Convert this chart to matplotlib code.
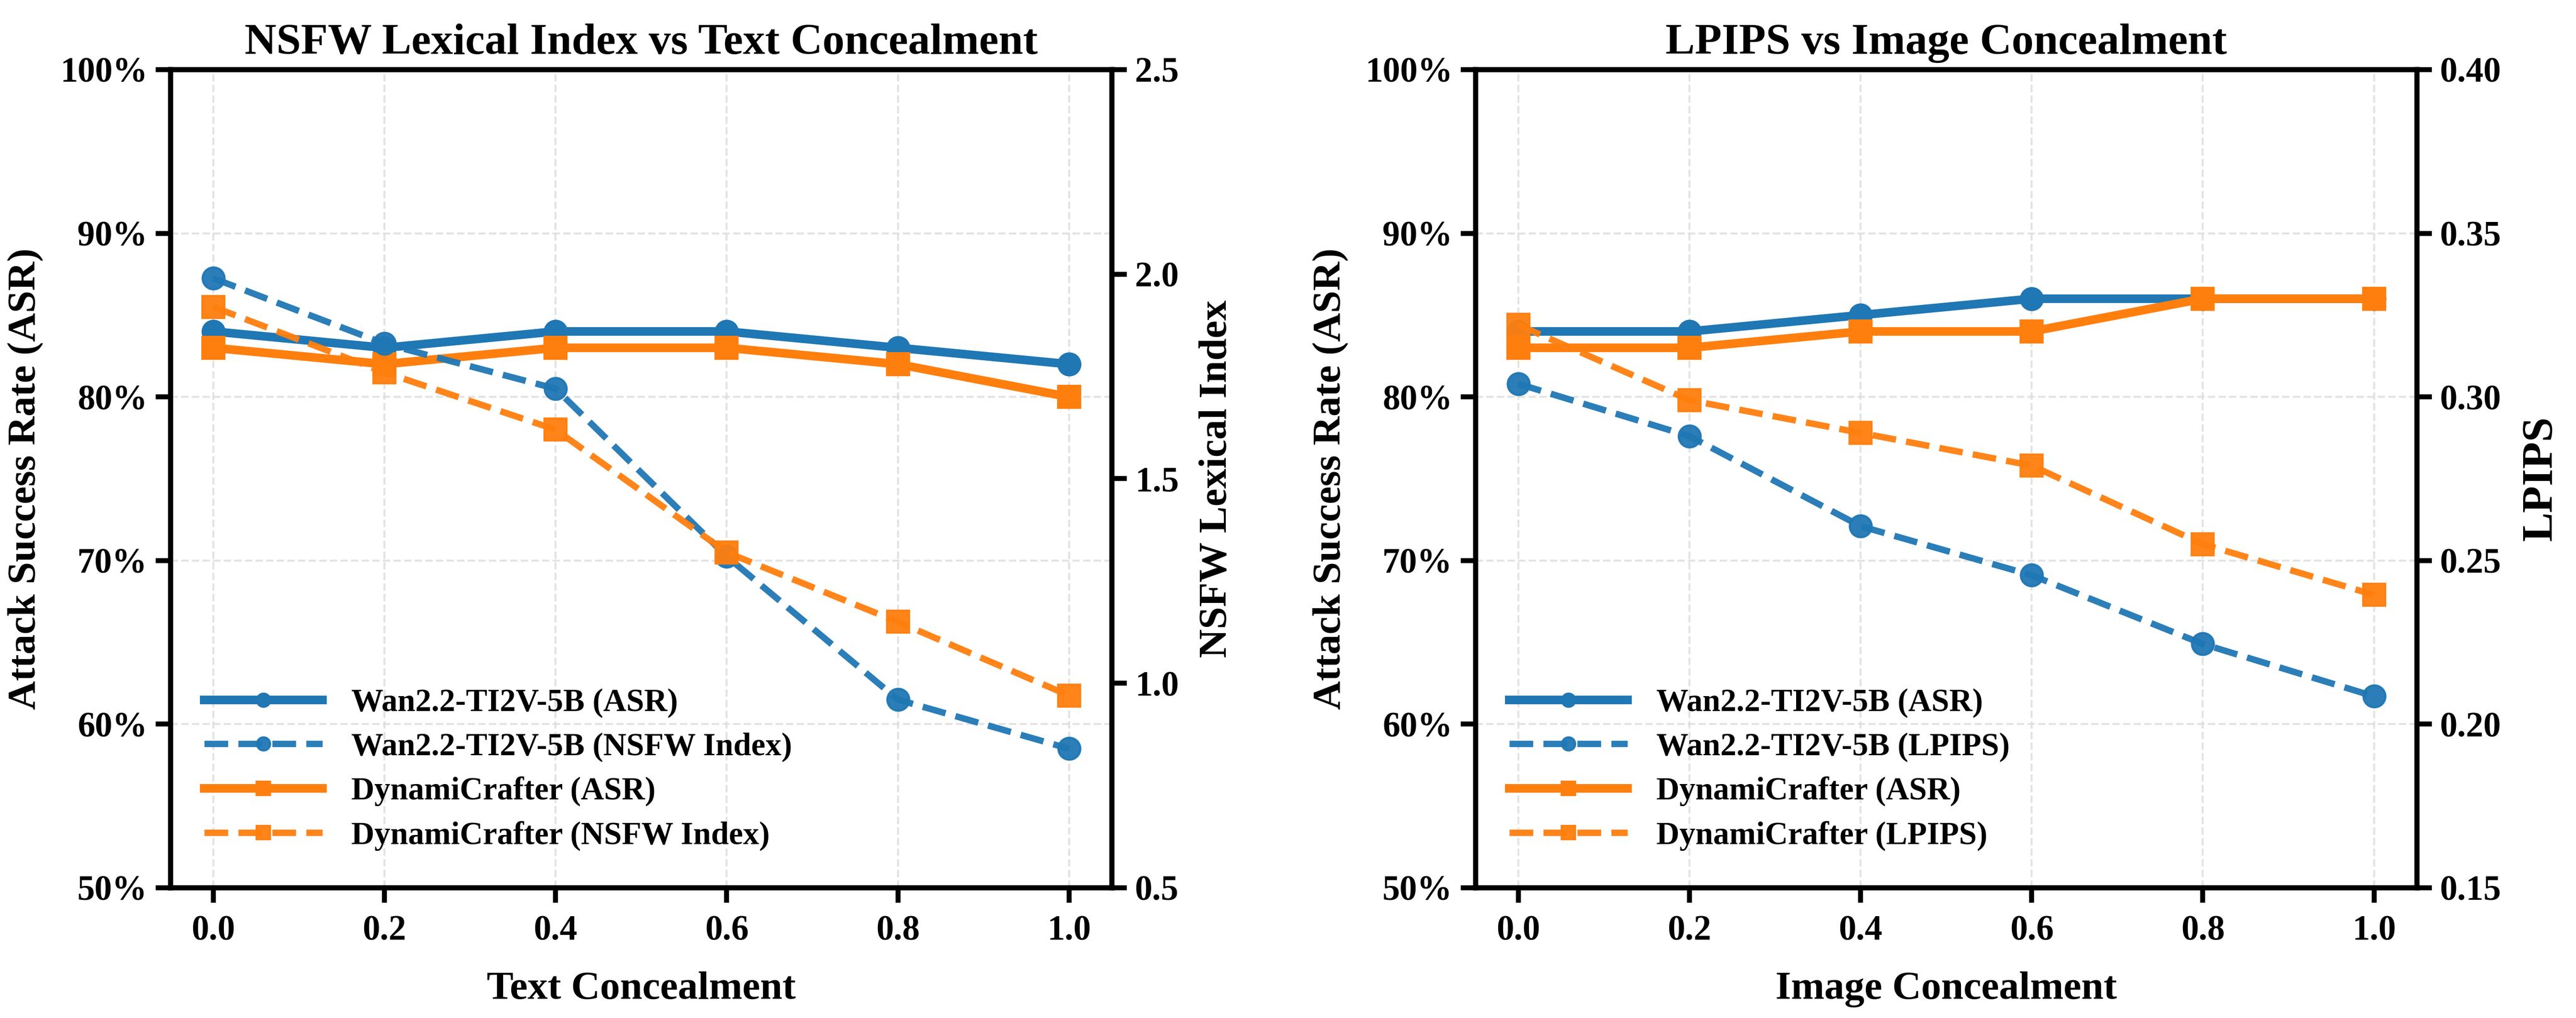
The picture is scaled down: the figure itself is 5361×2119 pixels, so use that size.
import matplotlib
matplotlib.use("Agg")
import matplotlib.pyplot as plt
from matplotlib.ticker import FuncFormatter, MultipleLocator

plt.rcParams['font.family'] = ['Liberation Serif', 'DejaVu Serif']
plt.rcParams['font.weight'] = 'bold'

x = [0.0, 0.2, 0.4, 0.6, 0.8, 1.0]

# Left panel
wan_asr_text = [84, 83, 84, 84, 83, 82]
dyn_asr_text = [83, 82, 83, 83, 82, 80]
wan_nsfw = [1.99, 1.83, 1.72, 1.31, 0.96, 0.84]
dyn_nsfw = [1.92, 1.76, 1.62, 1.32, 1.15, 0.97]

# Right panel
wan_asr_img = [84, 84, 85, 86, 86, 86]
dyn_asr_img = [83, 83, 84, 84, 86, 86]
wan_lpips = [0.304, 0.288, 0.2605, 0.2455, 0.2245, 0.2085]
dyn_lpips = [0.322, 0.299, 0.289, 0.279, 0.255, 0.2395]

BLUE = '#1f77b4'
ORANGE = '#ff7f0e'

fig = plt.figure(figsize=(5361/300, 2119/300), dpi=300)
ax1 = fig.add_axes([0.0662, 0.1279, 0.3654, 0.8037])
ax2 = fig.add_axes([0.5728, 0.1279, 0.3654, 0.8037])

def panel(ax, w_asr, d_asr, w_sec, d_sec, sec_lim, sec_step, sec_label, sec_name, xlabel, title, rfs):
    ax.grid(True, linestyle='--', color='#dddddd', alpha=0.8, linewidth=1.0)
    ax.set_axisbelow(True)
    axr = ax.twinx()
    l1, = ax.plot(x, w_asr, color=BLUE, lw=4.3, marker='o', ms=11, label='Wan2.2-TI2V-5B (ASR)', zorder=3)
    l3, = ax.plot(x, d_asr, color=ORANGE, lw=4.3, marker='s', ms=11, label='DynamiCrafter (ASR)', zorder=3)
    l2, = axr.plot(x, w_sec, color=BLUE, lw=3.2, ls='--', marker='o', ms=11, alpha=0.95,
                   label=f'Wan2.2-TI2V-5B ({sec_name})')
    l4, = axr.plot(x, d_sec, color=ORANGE, lw=3.2, ls='--', marker='s', ms=11, alpha=0.95,
                   label=f'DynamiCrafter ({sec_name})')
    ax.set_ylim(50, 100)
    ax.yaxis.set_major_locator(MultipleLocator(10))
    ax.yaxis.set_major_formatter(FuncFormatter(lambda v, p: f'{int(v)}%'))
    axr.set_ylim(*sec_lim)
    axr.yaxis.set_major_locator(MultipleLocator(sec_step))
    ax.set_xlim(-0.05, 1.05)
    ax.set_xticks(x)
    ax.set_xticklabels([f'{v:.1f}' for v in x])
    for a in (ax, axr):
        for s in a.spines.values():
            s.set_linewidth(2.5)
        a.tick_params(axis='both', width=2.5, length=7.5, labelsize=17.5, pad=4)
        for lab in a.get_xticklabels() + a.get_yticklabels():
            lab.set_fontweight('bold')
    ax.tick_params(axis='x', pad=6)
    ax.set_xlabel(xlabel, fontsize=20, fontweight='bold', labelpad=12)
    ax.set_ylabel('Attack Success Rate (ASR)', fontsize=20, fontweight='bold', labelpad=8)
    axr.set_ylabel(sec_label, fontsize=rfs, fontweight='bold', labelpad=10)
    ax.set_title(title, fontsize=22, fontweight='bold', pad=8)
    ax.legend([l1, l2, l3, l4], [l.get_label() for l in (l1, l2, l3, l4)],
              loc='lower left', bbox_to_anchor=(0.005, 0.01), frameon=False,
              prop={'size': 16, 'weight': 'bold'}, markerscale=0.6,
              handlelength=3.7, labelspacing=0.45, handletextpad=0.9)

panel(ax1, wan_asr_text, dyn_asr_text, wan_nsfw, dyn_nsfw, (0.5, 2.5), 0.5,
      'NSFW Lexical Index', 'NSFW Index', 'Text Concealment', 'NSFW Lexical Index vs Text Concealment', 20)
panel(ax2, wan_asr_img, dyn_asr_img, wan_lpips, dyn_lpips, (0.15, 0.40), 0.05,
      'LPIPS', 'LPIPS', 'Image Concealment', 'LPIPS vs Image Concealment', 22)

fig.savefig('out.png', dpi=300)
